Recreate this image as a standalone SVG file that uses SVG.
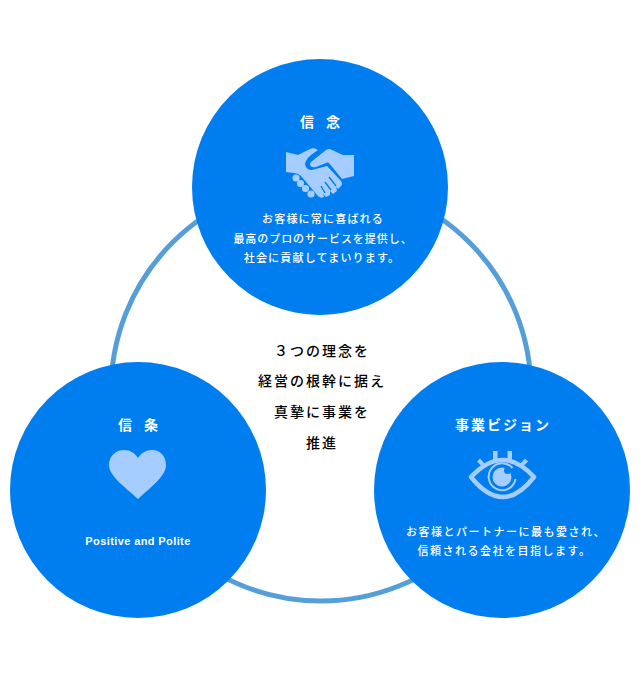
<svg xmlns="http://www.w3.org/2000/svg" width="640" height="680" viewBox="0 0 640 680">
<style>
text{font-family:"Noto Sans CJK JP","Liberation Sans",sans-serif;text-anchor:middle}
.disc{fill:#007eef}
.ttl{fill:#fff;font-size:14px;font-weight:700;letter-spacing:2px}
.body{fill:#fff;font-size:11px;font-weight:500;letter-spacing:1.2px}
.mid{fill:#000;font-size:14px;font-weight:500;letter-spacing:2px}
.ico{fill:#a6cdff}
.slit{stroke:#007eef;stroke-width:1.4;fill:none}
</style>
<rect width="640" height="680" fill="#fff"/>
<g id="connectors"><circle cx="321" cy="391" r="210" fill="none" stroke="#559fd8" stroke-width="5"/></g>
<g id="center-text">
<text class="mid" x="322" y="356">３つの理念を</text>
<text class="mid" x="322" y="386">経営の根幹に据え</text>
<text class="mid" x="322" y="417">真摯に事業を</text>
<text class="mid" x="322" y="448">推進</text>
</g>
<g id="node-top">
<circle class="disc" cx="320" cy="187" r="128"/>
<text class="ttl" x="321" y="127" style="word-spacing:5px">信 念</text>
<path class="ico" d="M311 162L326 150Q329 148 332 150L343 155L354 155V176L342 179L329 163Q328 162 326 163L316 167Q311 168 310 165Q310 163 311 162Z"/>
<path class="ico" d="M286 152L298 155L310 149Q314 147 318 150L311 155Q306 159 305 164Q306 170 312 170L327 166L341 181Q343 184 341 186L338 189L336 187L337 191L333 194L330 191L330 195L326 197L323 194L324 197Q321 199 318 196L301 176Q298 173 294 173L286 172Z"/>
<circle class="ico" cx="296" cy="178" r="3.600"/>
<circle class="ico" cx="300.500" cy="183.500" r="3.600"/>
<circle class="ico" cx="305.500" cy="188.500" r="3.600"/>
<circle class="ico" cx="311" cy="194" r="3.600"/>
<path class="slit" d="M329 177L336 186M325 182L331 190M321 186L325 193"/>
<text class="body" x="323" y="223">お客様に常に喜ばれる</text>
<text class="body" x="323" y="243" style="letter-spacing:.95px">最高のプロのサービスを提供し、</text>
<text class="body" x="322" y="262">社会に貢献してまいります。</text>
</g>
<g id="node-left">
<circle class="disc" cx="138" cy="490" r="128"/>
<text class="ttl" x="139" y="430" style="word-spacing:5px">信 条</text>
<path class="ico" d="M138 499C125 487 109 476 109 465C109 456 116 450 124 450C130 450 135 453 138 458C141 453 146 450 152 450C160 450 166 456 166 465C166 476 151 487 138 499Z"/>
<text x="138" y="545" fill="#fff" style="font-family:'Liberation Sans',sans-serif;font-size:11px;font-weight:700;letter-spacing:.4px">Positive and Polite</text>
</g>
<g id="node-right">
<circle class="disc" cx="502" cy="490" r="128"/>
<text class="ttl" x="503" y="430">事業ビジョン</text>
<path d="M471 477Q503 443 534 477Q503 517 471 477Z" fill="none" stroke="#a6cdff" stroke-width="4.500" stroke-linejoin="round"/>
<path class="ico" d="M493 451h4.500v9h-4.500zM507.500 451h4.500v9h-4.500zM477 461.500l3-3 4.500 5-3 2.500zM525 458.500l3 3-4.500 4.500-3-2.500z"/>
<path d="M512.500 468A13.500 13.500 0 1 0 515.500 479" fill="none" stroke="#a6cdff" stroke-width="2"/>
<circle class="ico" cx="502" cy="477" r="9.500"/>
<circle class="disc" cx="507.500" cy="470.500" r="3.500"/>
<text class="body" x="506" y="536" style="letter-spacing:1.5px">お客様とパートナーに最も愛され、</text>
<text class="body" x="504.500" y="555" style="letter-spacing:1.5px">信頼される会社を目指します。</text>
</g>
</svg>
